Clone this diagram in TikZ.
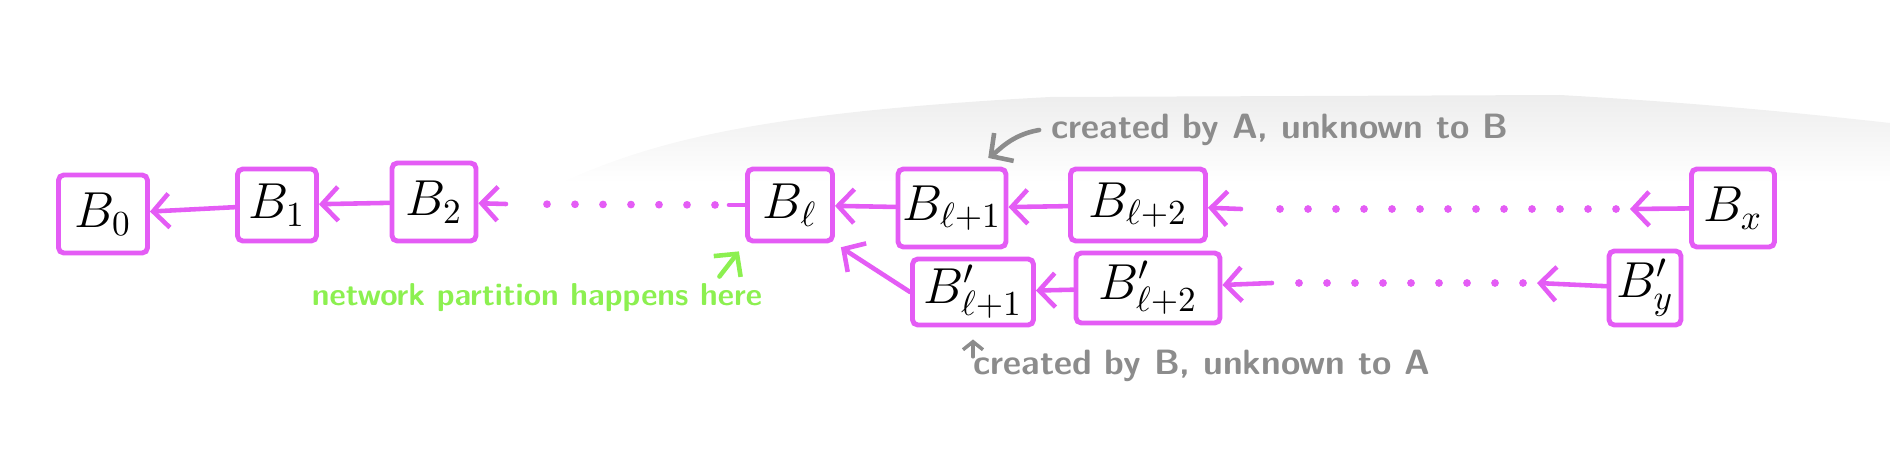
\documentclass[tikz,border=0pt]{standalone}
\usetikzlibrary{arrows.meta}

\definecolor{pen}{RGB}{228,92,245}
\definecolor{pencil}{RGB}{140,140,140}
\definecolor{marker}{RGB}{140,240,80}

\tikzstyle{block} = [draw=pen, line width=1.4pt, rounded corners=1.5pt, inner sep=0pt, font=\Large]
\tikzstyle{link} = [draw=pen, line width=1.3pt, line cap=round]
\tikzstyle{arr} = [-{Straight Barb[length=1.6mm,width=3.4mm]}]
\tikzstyle{dots} = [draw=pen, line width=2.2pt, line cap=round, dash pattern=on 0pt off 2.8mm, shorten <=1.4mm, shorten >=1.4mm]
\tikzstyle{note} = [text=pencil, font=\sffamily\bfseries]

\begin{document}
\begin{tikzpicture}
	\useasboundingbox (0,0) rectangle (18.9,4.53);
	% faint shadow behind the top note
	\shade[top color=black!7, bottom color=white] (5.6,2.7) .. controls (6.5,3.1) and (7.5,3.4) .. (10.5,3.56) -- (15.6,3.58) .. controls (17,3.5) and (18,3.4) .. (18.9,3.3) -- (18.9,2.7) -- cycle;
	
	\node[block, minimum width=0.89cm, minimum height=0.78cm] (b0) at (1.03,2.39) {$B_0$};
	\node[block, minimum width=0.79cm, minimum height=0.72cm] (b1) at (2.77,2.48) {$B_1$};
	\node[block, minimum width=0.84cm, minimum height=0.78cm] (b2) at (4.34,2.51) {$B_2$};
	\node[block, minimum width=0.85cm, minimum height=0.72cm] (bl) at (7.90,2.48) {$B_\ell$};
	\node[block, minimum width=1.08cm, minimum height=0.78cm] (bl1) at (9.52,2.45) {$B_{\ell+1}$};
	\node[block, minimum width=1.35cm, minimum height=0.72cm] (bl2) at (11.38,2.48) {$B_{\ell+2}$};
	\node[block, minimum width=0.83cm, minimum height=0.78cm] (bx) at (17.33,2.45) {$B_x$};
	\node[block, minimum width=1.21cm, minimum height=0.66cm] (bp1) at (9.73,1.61) {$B'_{\ell+1}$};
	\node[block, minimum width=1.44cm, minimum height=0.70cm] (bp2) at (11.48,1.65) {$B'_{\ell+2}$};
	\node[block, minimum width=0.72cm, minimum height=0.74cm] (by) at (16.45,1.65) {$B'_y$};
	
	\node[note] (na) at (12.80,3.23) {created by A, unknown to B};
	\node[note] (nb) at (12.02,0.87) {created by B, unknown to A};
	\node[text=marker, font=\fontsize{9}{11}\sffamily\bfseries] (np) at (5.37,1.55) {network partition happens here};
	
	\coordinate (m1) at (7.29,2.48);
	\coordinate (m2) at (5.06,2.49);
	\coordinate (n1) at (16.30,2.44);
	\coordinate (n2) at (12.41,2.44);
	\coordinate (p1) at (15.37,1.70);
	\coordinate (p2) at (12.72,1.70);
	
	\draw[link,arr] (b1) -- (b0);
	\draw[link,arr] (b2) -- (b1);
	\draw[link] (bl) -- (m1);
	\draw[dots] (m1) -- (m2);
	\draw[link,arr] (m2) -- (b2);
	
	\draw[link,arr] (bl1) -- (bl);
	\draw[link,arr] (bl2) -- (bl1);
	\draw[link,arr] (bx) -- (n1);
	\draw[dots] (n1) -- (n2);
	\draw[link,arr] (n2) -- (bl2);
	
	\draw[link,arr] (bp2) -- (bp1);
	\draw[link,arr] (by) -- (p1);
	\draw[dots] (p1) -- (p2);
	\draw[link,arr] (p2) -- (bp2);
	\draw[link,arr,shorten >=2pt] (bp1.west) -- (bl.south east);
	
	% notes
	\draw[pencil, line width=1.3pt, line cap=round, arr, shorten >=1.5mm] (na.west) to[out=190,in=35] (bl1.60);
	\draw[pencil, line width=1pt, line cap=round, -{Straight Barb[length=0.8mm,width=2mm]}, shorten >=1.2mm] ([yshift=-1.9mm]nb.north -| bp1.south) -- (bp1.south);
	\draw[marker, line width=1.3pt, line cap=round, arr, shorten >=1mm] ([xshift=-5.5mm,yshift=-0.5mm]np.north east) -- (bl.south west);
\end{tikzpicture}
\end{document}
